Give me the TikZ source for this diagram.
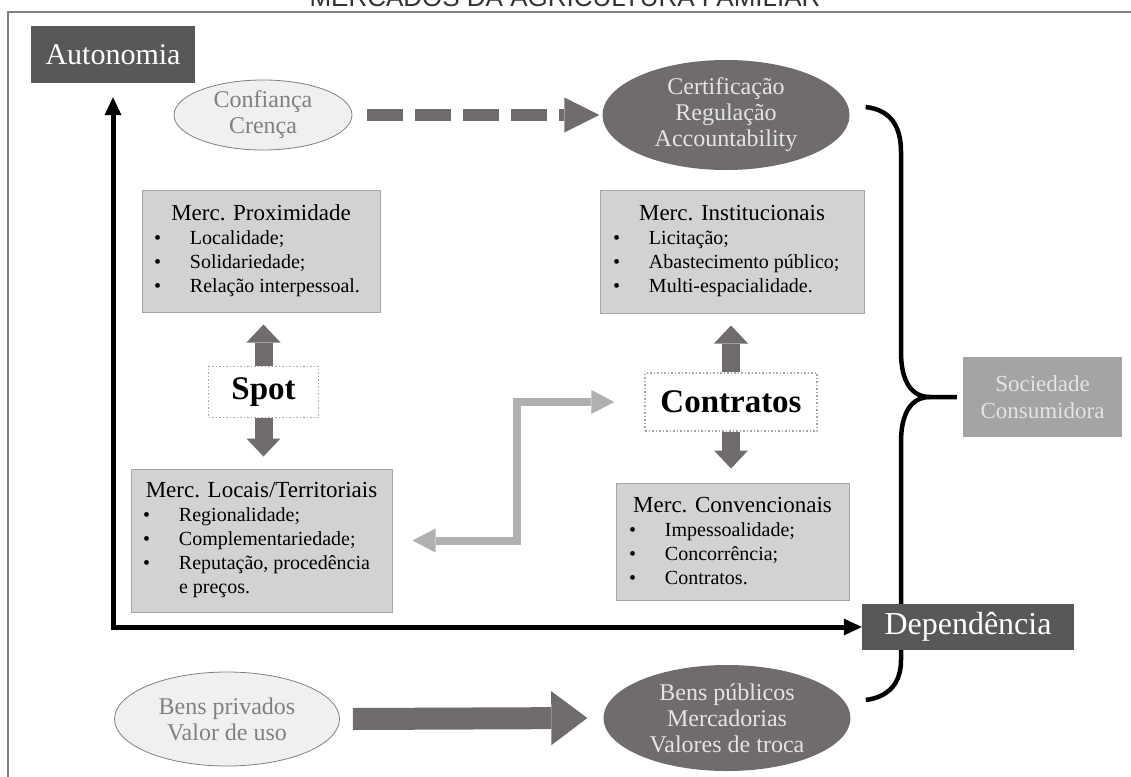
\documentclass[tikz,border=0pt]{standalone}
\usepackage{fontspec}
\setmainfont{Liberation Serif}
\newfontfamily\headsans{Liberation Sans}
\usetikzlibrary{arrows.meta,shapes.geometric}

\definecolor{darkbox}{RGB}{89,87,87}
\definecolor{darkfill}{RGB}{112,108,108}
\definecolor{boxfill}{RGB}{211,210,210}
\definecolor{boxline}{RGB}{166,166,166}
\definecolor{lightfill}{RGB}{240,240,240}
\definecolor{lightline}{RGB}{128,128,128}
\definecolor{lighttext}{RGB}{128,128,128}
\definecolor{paletext}{RGB}{228,228,228}
\definecolor{linkgray}{RGB}{178,175,175}
\definecolor{socfill}{RGB}{166,163,163}
\definecolor{framegray}{RGB}{128,128,128}

% market box contents: centred heading, then a bulleted list
\newcommand\mtitle[1]{{\centering\fontsize{23}{24}\selectfont #1\par}}
\newcommand\mitem[1]{\hangindent=36pt\hangafter=1\noindent\makebox[36pt][l]{\textbullet}#1\par}
\newcommand\mlist[3]{\parbox{#1}{\mtitle{#2}\fontsize{20}{24}\selectfont #3}}

\tikzset{
  mbox/.style={draw=boxline, line width=1pt, fill=boxfill, inner sep=0pt},
  polebox/.style={fill=darkbox, text=white, inner sep=0pt},
  lightoval/.style={ellipse, draw=lightline, line width=0.8pt, fill=lightfill,
    text=lighttext, inner sep=0pt, align=center, font=\fontsize{24}{26}\selectfont},
  darkoval/.style={ellipse, fill=darkfill, text=paletext, inner sep=0pt,
    align=center, font=\fontsize{24}{26}\selectfont},
  dotbox/.style={draw=boxline, dotted, line width=1.5pt, fill=white,
    font=\bfseries\fontsize{33}{33}\selectfont, inner sep=0pt},
  fatarrow/.style={draw=darkfill, line width=18pt,
    -{Triangle[length=18pt,width=34pt,line width=0pt]}},
  dasharrow/.style={draw=darkfill, line width=12pt, dash pattern=on 36pt off 12pt,
    -{Triangle[length=35pt,width=35pt,line width=0pt]}},
  bigarrow/.style={draw=darkfill, line width=22pt,
    -{Triangle[length=36pt,width=54pt,line width=0pt]}},
  linkarrow/.style={draw=linkgray, line width=8pt,
    {Triangle[length=23pt,width=24pt,line width=0pt]}-{Triangle[length=23pt,width=24pt,line width=0pt]}},
  axisarrow/.style={draw=black, line width=5pt,
    {Triangle[length=18pt,width=17pt,line width=0pt]}-{Triangle[length=18pt,width=17pt,line width=0pt]}},
  bracestyle/.style={draw=black, line width=4.5pt},
}

\begin{document}
\begin{tikzpicture}[x=1pt, y=-1pt]
\useasboundingbox (0,0) rectangle (1131,776);
\clip (0,0) rectangle (1131,776);
\fill[white] (0,0) rectangle (1131,776);

% heading and outer frame
\node[font=\headsans\fontsize{26}{26}\selectfont, text=black!80, anchor=base, inner sep=0pt]
  (title) at (565,7) {MERCADOS DA AGRICULTURA FAMILIAR};
\draw[framegray, line width=1.5pt] (8,800) -- (8,12) -- (1160,12);

% poles
\node[polebox, minimum width=164pt, minimum height=57pt, font=\fontsize{30}{30}\selectfont]
  (auto) at (113,54.5) {Autonomia};

% trust -> certification
\node[lightoval, minimum width=178pt, minimum height=70pt] (conf) at (263,115) {Confiança\\Crença};
\node[darkoval, minimum width=247pt, minimum height=110pt] (cert) at (726,115)
  {Certificação\\Regulação\\Accountability};

% market boxes
\node[mbox, minimum width=238pt, minimum height=122pt] (prox) at (261,251)
  {\mlist{214pt}{Merc. Proximidade}{\mitem{Localidade;}\mitem{Solidariedade;}\mitem{Relação interpessoal.}}};
\node[mbox, minimum width=264pt, minimum height=123pt] (inst) at (732,251.5)
  {\mlist{238pt}{Merc. Institucionais}{\mitem{Licitação;}\mitem{Abastecimento público;}\mitem{Multi-espacialidade.}}};
\node[mbox, minimum width=261pt, minimum height=143pt] (loc) at (261.5,540.5)
  {\mlist{237pt}{Merc. Locais/Territoriais}{\mitem{Regionalidade;}\mitem{Complementariedade;}\mitem{Reputação, procedência\newline e preços.}}};
\node[mbox, minimum width=233pt, minimum height=117pt] (conv) at (732.5,541.5)
  {\mlist{207pt}{Merc. Convencionais}{\mitem{Impessoalidade;}\mitem{Concorrência;}\mitem{Contratos.}}};

% exchange modes
\node[dotbox, minimum width=110pt, minimum height=51pt] (spot) at (263.5,392) {Spot};
\node[dotbox, minimum width=172pt, minimum height=58pt] (contr) at (731,402) {Contratos};

% consumer society
\node[fill=socfill, text=paletext, minimum width=159pt, minimum height=80pt, inner sep=0pt,
  align=center, font=\fontsize{23}{27}\selectfont] (soc) at (1042.5,397) {Sociedade\\Consumidora};

% goods
\node[lightoval, minimum width=225pt, minimum height=94pt] (priv) at (227,719) {Bens privados\\Valor de uso};
\node[darkoval, minimum width=247pt, minimum height=106pt] (pub) at (727,718)
  {Bens públicos\\Mercadorias\\Valores de troca};

% connectors
\draw[dasharrow] ([xshift=15pt]conf.east) -- ([xshift=-3pt]cert.west);
\draw[fatarrow] (spot.north) -- ([yshift=-12pt]spot.north |- prox.south);
\draw[fatarrow] (spot.south) -- ([yshift=12pt]spot.south |- loc.north);
\draw[fatarrow] (contr.north) -- ([yshift=-12pt]contr.north |- inst.south);
\draw[fatarrow] (contr.south) -- ([yshift=14pt]contr.south |- conv.north);
\coordinate (bend) at (517,470);
\draw[linkarrow] ([xshift=-30pt]contr.west) -| (bend) |- ([xshift=20pt]loc.east);
\draw[bigarrow] ([xshift=13pt]priv.east) -- ([xshift=-16pt]pub.west);

% brace gathering both kinds of goods towards the consumers
\coordinate (tip) at ([xshift=-33pt]soc.west);
\draw[bracestyle] ([xshift=16pt,yshift=8pt]cert.east) .. controls (892,110) and (901,128) .. (901,152)
  -- (901,352) .. controls (901,382) and (912,397) .. (tip) -- ([xshift=-6pt]soc.west);
\draw[bracestyle] (tip) .. controls (912,397) and (901,412) .. (901,442)
  -- (901,660) .. controls (901,684) and (888,697) .. ([xshift=15pt,yshift=18pt]pub.east);

\node[polebox, minimum width=212pt, minimum height=46pt, font=\fontsize{32}{32}\selectfont]
  (dep) at (968,627) {Dependência};

% autonomy -- dependence axis
\draw[axisarrow] ([yshift=-14pt]auto.south) |- (dep.west);
\end{tikzpicture}
\end{document}
